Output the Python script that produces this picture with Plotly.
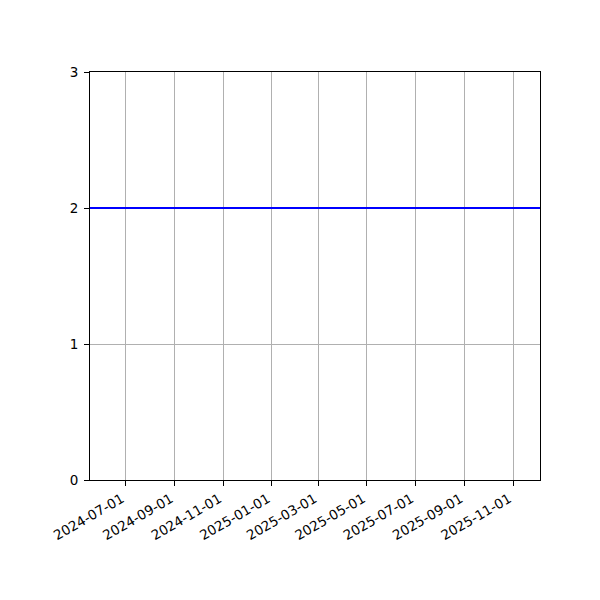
import plotly.graph_objects as go

# line data (horizontal level across the whole date window)
dates = ["2024-05-17", "2025-12-05"]
values = [2, 2]

# tick labels
x_ticks = ["2024-07-01", "2024-09-01", "2024-11-01", "2025-01-01", "2025-03-01",
           "2025-05-01", "2025-07-01", "2025-09-01", "2025-11-01"]
y_ticks = [0, 1, 2, 3]

fig = go.Figure(go.Scatter(x=dates, y=values, mode="lines",
                           line=dict(color="blue", width=2)))

axis_style = dict(
    showline=True, linecolor="black", linewidth=1, mirror=True,
    ticks="outside", ticklen=5, tickcolor="black", tickwidth=1,
    showgrid=True, gridcolor="#b0b0b0", gridwidth=1,
    zeroline=False,
    tickfont=dict(family="DejaVu Sans", size=13.5, color="black"),
)

fig.update_xaxes(axis_style, type="date", range=[dates[0], dates[-1]],
                 tickvals=x_ticks, ticktext=x_ticks, tickangle=-30,
                 ticklabelshift=-4)
fig.update_yaxes(axis_style, range=[0, 3], tickvals=y_ticks,
                 ticklabelstandoff=3)

# page body adds 8px, so margins are shifted to land the box at 90..540 x 72..480
fig.update_layout(
    width=600, height=600,
    margin=dict(l=82, r=68, t=64, b=128),
    plot_bgcolor="white", paper_bgcolor="white",
    showlegend=False,
)

fig.write_html("out.html")
